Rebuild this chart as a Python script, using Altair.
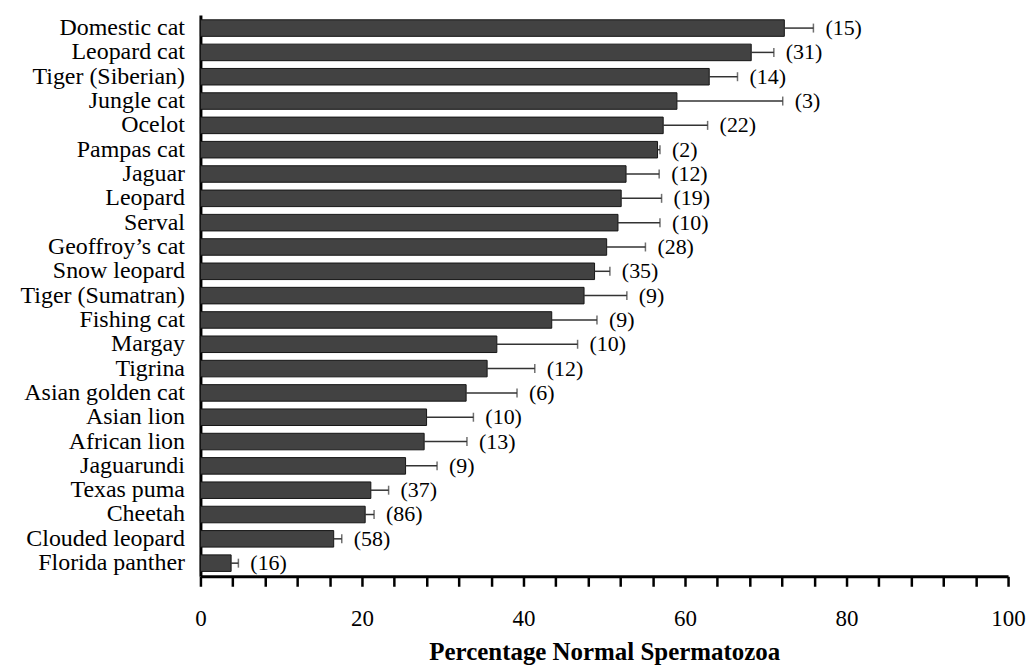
import altair as alt
import pandas as pd

species = ["Domestic cat", "Leopard cat", "Tiger (Siberian)", "Jungle cat", "Ocelot",
           "Pampas cat", "Jaguar", "Leopard", "Serval", "Geoffroy\u2019s cat",
           "Snow leopard", "Tiger (Sumatran)", "Fishing cat", "Margay", "Tigrina",
           "Asian golden cat", "Asian lion", "African lion", "Jaguarundi", "Texas puma",
           "Cheetah", "Clouded leopard", "Florida panther"]
mean_pct = [72.3, 68.2, 63.0, 59.0, 57.3, 56.6, 52.7, 52.1, 51.7, 50.3,
            48.8, 47.5, 43.5, 36.7, 35.5, 32.9, 28.0, 27.7, 25.4, 21.1,
            20.4, 16.5, 3.8]
sem_pct = [3.6, 2.8, 3.5, 13.1, 5.5, 0.3, 4.1, 5.0, 5.2, 4.8,
           1.9, 5.3, 5.6, 10.0, 5.9, 6.3, 5.8, 5.3, 3.9, 2.2,
           1.1, 1.0, 0.9]
n_males = [15, 31, 14, 3, 22, 2, 12, 19, 10, 28, 35, 9, 9, 10, 12, 6, 10, 13, 9, 37, 86, 58, 16]
x_ticks = list(range(0, 101, 4))

df = pd.DataFrame({"species": species, "mean": mean_pct, "sem": sem_pct, "n": n_males})
df["hi"] = df["mean"] + df["sem"]
df["lab"] = ["(" + str(v) + ")" for v in n_males]

FONT = "Liberation Serif"
TITLE = "Percentage Normal Spermatozoa"

y_axis = alt.Axis(labelFont=FONT, labelFontSize=24, labelColor="black",
                  ticks=False, labelPadding=16, domainColor="black",
                  domainWidth=3, minExtent=188, maxExtent=188,
                  labelOverlap=False)
y_scale = alt.Scale(paddingInner=0.32, paddingOuter=0.2)

x_axis = alt.Axis(values=x_ticks,
                  labelExpr="(round(datum.value) % 20 == 0) ? format(datum.value, 'd') : ''",
                  labelOverlap=False, labelBound=False, labelFlush=False,
                  labelFont=FONT, labelFontSize=23, labelColor="black",
                  labelPadding=21, tickSize=10, tickWidth=2.5, tickColor="black",
                  domainColor="black", domainWidth=3, grid=False,
                  titleFont=FONT, titleFontSize=25, titleFontWeight="bold",
                  titleColor="black", titlePadding=9)
x_scale = alt.Scale(domain=[0, 100], nice=False)


def Y():
    return alt.Y("species:N", sort=species, title=None, scale=y_scale, axis=y_axis)


def X(field):
    return alt.X(field, scale=x_scale, title=TITLE, axis=x_axis)


bars = alt.Chart(df).mark_bar(fill="#424242", stroke="#151515", strokeWidth=1).encode(
    y=Y(), x=X("mean:Q"),
)

err = alt.Chart(df).mark_rule(color="#333333", strokeWidth=1.5).encode(
    y=Y(), x=X("mean:Q"), x2="hi:Q",
)

caps = alt.Chart(df).mark_tick(color="#333333", thickness=1.5, size=9, orient="vertical").encode(
    y=Y(), x=X("hi:Q"),
)

labels = alt.Chart(df).mark_text(align="left", baseline="middle", dx=12, font=FONT,
                                 fontSize=22, color="black").encode(
    y=Y(), x=X("hi:Q"), text="lab:N",
)

chart = alt.layer(bars, err, caps, labels).properties(
    width=810, height=563, background="white",
    padding={"left": 5, "top": 6, "right": 0, "bottom": 0},
).configure_view(stroke=None)

chart.save("out.html", embed_options={"renderer": "svg", "actions": False})
